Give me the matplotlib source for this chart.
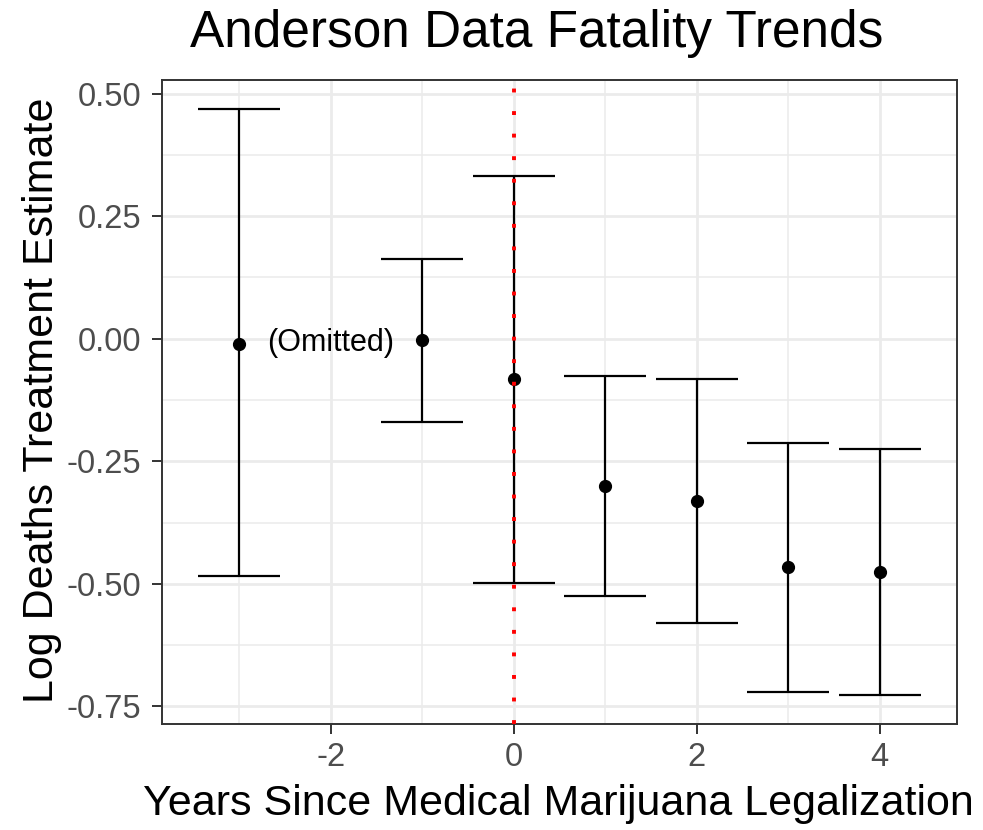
import matplotlib
matplotlib.use("Agg")
import matplotlib.pyplot as plt
import numpy as np

# Event-study estimates by year relative to legalization
years = [-3, -1, 0, 1, 2, 3, 4]
estimate = [-0.010, -0.003, -0.082, -0.300, -0.331, -0.466, -0.476]
ci_lower = [-0.484, -0.170, -0.498, -0.525, -0.579, -0.721, -0.726]
ci_upper = [0.468, 0.163, 0.331, -0.076, -0.082, -0.213, -0.225]

x_ticks = [-2, 0, 2, 4]
x_tick_labels = ["-2", "0", "2", "4"]
y_ticks = [-0.75, -0.50, -0.25, 0.00, 0.25, 0.50]
y_tick_labels = ["-0.75", "-0.50", "-0.25", "0.00", "0.25", "0.50"]

title = "Anderson Data Fatality Trends"
x_label = "Years Since Medical Marijuana Legalization"
y_label = "Log Deaths Treatment Estimate"
note_text = "(Omitted)"
note_x, note_y = -2, -0.008

plt.rcParams["font.family"] = ["Liberation Sans", "DejaVu Sans"]
plt.rcParams["axes.unicode_minus"] = False

fig = plt.figure(figsize=(9.83, 8.30), dpi=100)
ax = fig.add_axes([162 / 983, 1 - 724 / 830, (957 - 162) / 983, (724 - 80) / 830])

grid_col = "#EBEBEB"
border_col = "#333333"
cap_w = 0.9

# limits with ggplot-style 5% expansion
x_lo = min(years) - cap_w / 2
x_hi = max(years) + cap_w / 2
pad_x = (x_hi - x_lo) * 0.05
y_lo, y_hi = min(ci_lower), max(ci_upper)
pad_y = (y_hi - y_lo) * 0.05
ax.set_xlim(x_lo - pad_x, x_hi + pad_x)
ax.set_ylim(y_lo - pad_y, y_hi + pad_y)

# grid: major and minor
ax.set_xticks(x_ticks)
ax.set_xticklabels(x_tick_labels)
ax.set_xticks([-3, -1, 1, 3], minor=True)
ax.set_yticks(y_ticks)
ax.set_yticklabels(y_tick_labels)
ax.set_yticks([-0.625, -0.375, -0.125, 0.125, 0.375], minor=True)
ax.grid(which="major", color=grid_col, linewidth=2.0, zorder=0)
ax.grid(which="minor", color=grid_col, linewidth=1.1, zorder=0)
ax.set_axisbelow(True)

ax.tick_params(which="major", length=7.2, width=1.4, color=border_col,
               labelsize=23.5, labelcolor="#4D4D4D")
ax.tick_params(axis="y", which="major", pad=8)
ax.tick_params(axis="x", which="major", pad=6)
ax.tick_params(which="minor", length=0)
for s in ax.spines.values():
    s.set_color(border_col)
    s.set_linewidth(1.4)

# error bars
for xi, lo, hi in zip(years, ci_lower, ci_upper):
    ax.plot([xi, xi], [lo, hi], color="black", linewidth=1.6, solid_capstyle="butt", zorder=3)
    ax.plot([xi - cap_w / 2, xi + cap_w / 2], [lo, lo], color="black", linewidth=1.6,
            solid_capstyle="butt", zorder=3)
    ax.plot([xi - cap_w / 2, xi + cap_w / 2], [hi, hi], color="black", linewidth=1.6,
            solid_capstyle="butt", zorder=3)

ax.plot(years, estimate, "o", color="black", markersize=8.5, zorder=4)

# legalization year marker
ax.axvline(0, color="red", linewidth=2.8, linestyle=(0, (1, 4.8)),
           dash_capstyle="butt", zorder=5)

ax.text(note_x, note_y, note_text, ha="center", va="center", fontsize=22, color="black", zorder=6)

fig.text(537 / 983, 1 - 47 / 830, title, ha="center", va="baseline", fontsize=37, color="black")
fig.text(558 / 983, 1 - 815 / 830, x_label, ha="center", va="baseline", fontsize=31, color="black")
fig.text(42 / 983, 1 - 400 / 830, y_label, ha="center", va="center", rotation=90,
         fontsize=31, color="black")

fig.savefig("out.png", dpi=100, facecolor="white")
